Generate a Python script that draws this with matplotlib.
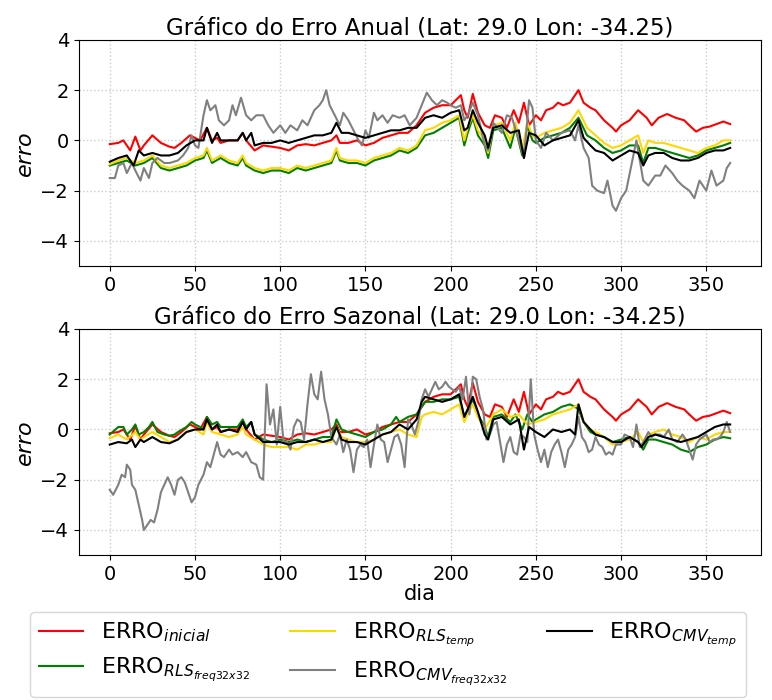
import numpy as np
import matplotlib.pyplot as plt

# erro inicial (igual nos dois graficos)
ini_d = [0, 5, 8, 12, 15, 18, 20, 25, 30, 35, 38, 42, 47, 50, 53, 57, 60, 63, 65, 70, 75, 78, 80, 85, 90,
         95, 100, 105, 110, 115, 120, 125, 130, 133, 135, 140, 145, 150, 155, 160, 165, 170, 175, 180, 185,
         190, 195, 200, 203, 206, 208, 210, 213, 216, 220, 223, 226, 230, 233, 237, 240, 243, 246, 250, 253,
         256, 260, 263, 266, 270, 275, 278, 282, 285, 290, 295, 297, 300, 305, 310, 315, 318, 322, 327, 332,
         337, 340, 344, 348, 352, 356, 360, 364]
ini_v = [-0.15, -0.1, 0.0, -0.4, 0.15, -0.4, -0.2, 0.2, -0.1, -0.25, -0.3, -0.1, 0.2, 0.1, 0.0, 0.5, 0.0, 0.1,
         -0.1, 0.0, 0.0, 0.3, 0.0, -0.4, -0.2, -0.25, -0.3, -0.4, -0.2, -0.15, -0.2, -0.1, 0.0, 0.2, -0.1, -0.1,
         0.0, -0.2, -0.1, 0.1, 0.2, 0.3, 0.3, 0.6, 1.1, 1.3, 1.4, 1.4, 1.6, 1.8, 1.2, 0.9, 1.85, 1.1, 0.6, 0.5,
         1.0, 0.9, 0.5, 1.2, 0.7, 1.5, 0.6, 1.0, 0.8, 1.2, 1.3, 1.5, 1.4, 1.5, 2.0, 1.5, 1.3, 1.2, 0.8, 0.5, 0.35,
         0.6, 0.8, 1.2, 0.9, 0.6, 0.9, 1.05, 0.9, 0.8, 0.6, 0.35, 0.5, 0.55, 0.65, 0.75, 0.65]

# grafico anual
a_rlsf_d = [0, 5, 10, 15, 20, 25, 30, 35, 40, 45, 50, 55, 57, 60, 65, 70, 75, 78, 80, 85, 90, 95, 100, 105,
            110, 115, 120, 125, 130, 133, 135, 140, 145, 150, 155, 160, 165, 170, 175, 180, 185, 190, 195, 200,
            205, 208, 210, 213, 216, 220, 222, 225, 230, 235, 238, 242, 245, 248, 250, 255, 260, 265, 270, 275,
            280, 285, 290, 295, 300, 305, 310, 313, 316, 320, 325, 330, 335, 340, 345, 350, 355, 360, 364]
a_rlsf_v = [-1.0, -0.9, -0.8, -1.0, -0.9, -0.7, -1.1, -1.2, -1.1, -1.0, -0.8, -0.7, -0.4, -0.9, -0.7, -0.9,
            -1.0, -0.7, -1.0, -1.2, -1.3, -1.2, -1.2, -1.3, -1.1, -1.2, -1.1, -1.0, -0.9, -0.4, -0.8, -0.9, -0.9,
            -1.0, -0.8, -0.7, -0.6, -0.4, -0.5, -0.3, 0.2, 0.3, 0.5, 0.7, 0.9, -0.2, 0.3, 0.9, 0.2, -0.2, -0.7,
            0.4, 0.5, -0.3, 0.5, -0.6, 0.6, 0.0, -0.1, 0.1, 0.2, 0.3, 0.5, 0.9, 0.2, 0.0, -0.3, -0.5, -0.4, -0.2,
            -0.2, -0.9, -0.3, -0.3, -0.4, -0.5, -0.6, -0.7, -0.6, -0.4, -0.3, -0.2, -0.1]

a_rlst_d = a_rlsf_d
a_rlst_v = [-0.95, -0.8, -0.7, -0.9, -0.8, -0.6, -1.0, -1.1, -1.0, -0.9, -0.7, -0.6, -0.3, -0.8, -0.6, -0.8,
            -0.9, -0.6, -0.9, -1.1, -1.2, -1.1, -1.1, -1.2, -1.0, -1.1, -1.0, -0.9, -0.8, -0.3, -0.7, -0.8, -0.8,
            -0.9, -0.7, -0.6, -0.5, -0.3, -0.4, -0.2, 0.4, 0.5, 0.7, 0.8, 1.0, 0.0, 0.5, 1.0, 0.4, 0.0, -0.5,
            0.6, 0.7, 0.0, 0.7, -0.4, 0.7, 0.2, 0.1, 0.3, 0.4, 0.5, 0.7, 1.2, 0.5, 0.2, -0.1, -0.3, -0.2, 0.0,
            0.2, -0.5, 0.0, -0.1, -0.1, -0.2, -0.3, -0.4, -0.5, -0.3, -0.2, 0.0, 0.0]

a_cmvt_d = [0, 5, 10, 14, 17, 20, 25, 30, 35, 40, 45, 50, 55, 57, 60, 63, 65, 70, 75, 78, 80, 83, 85, 90, 95,
            100, 105, 110, 115, 120, 125, 130, 133, 136, 140, 145, 150, 155, 160, 165, 170, 175, 180, 185, 190,
            195, 200, 205, 208, 210, 213, 216, 220, 222, 225, 230, 235, 240, 243, 246, 250, 255, 260, 265, 270,
            275, 278, 282, 285, 290, 295, 300, 305, 310, 313, 316, 320, 325, 330, 335, 340, 345, 350, 355, 360, 364]
a_cmvt_v = [-0.85, -0.7, -0.6, -1.0, -0.4, -0.6, -0.5, -0.6, -0.6, -0.5, -0.2, 0.0, 0.0, 0.5, -0.1, 0.3, 0.0,
            0.0, 0.0, 0.3, 0.0, 0.3, -0.2, -0.1, -0.1, 0.0, -0.1, 0.0, 0.1, 0.2, 0.2, 0.3, 0.7, 0.3, 0.3, 0.2,
            0.1, 0.2, 0.3, 0.4, 0.4, 0.5, 0.5, 0.9, 1.0, 0.9, 1.1, 1.2, 0.4, 0.5, 1.2, 0.7, 0.2, -0.3, 0.5, 0.6,
            0.3, 0.4, -0.7, 0.3, 0.2, -0.2, 0.0, 0.1, 0.2, 0.8, 0.1, -0.2, -0.4, -0.5, -0.8, -0.6, -0.4, -0.5,
            -1.0, -0.6, -0.5, -0.5, -0.7, -0.8, -0.8, -0.7, -0.5, -0.4, -0.4, -0.3]

a_cmvf_d = [0, 3, 5, 8, 10, 13, 15, 18, 20, 23, 25, 28, 32, 35, 40, 43, 46, 48, 50, 52, 55, 57, 59, 62, 64, 67,
            70, 72, 74, 77, 80, 83, 86, 90, 93, 96, 100, 103, 106, 110, 113, 116, 120, 123, 125, 127, 129, 132,
            135, 137, 140, 143, 146, 148, 150, 152, 155, 157, 160, 163, 166, 170, 173, 176, 180, 183, 186, 189,
            192, 195, 198, 200, 203, 206, 208, 210, 213, 216, 220, 222, 225, 230, 233, 236, 240, 243, 246, 248,
            250, 253, 256, 260, 265, 270, 273, 275, 278, 281, 283, 286, 290, 292, 295, 297, 300, 303, 306, 309,
            311, 313, 316, 320, 323, 326, 330, 333, 336, 340, 343, 346, 350, 353, 356, 360, 362, 364]
a_cmvf_v = [-1.5, -1.5, -1.0, -0.9, -1.3, -0.9, -1.2, -1.6, -1.1, -1.5, -0.9, -0.7, -0.9, -0.9, -0.8, -0.6,
            -0.3, 0.2, -0.2, -0.3, 1.0, 1.6, 1.2, 1.4, 0.8, 0.6, 0.8, 1.4, 1.0, 1.7, 1.0, 0.8, 1.0, 1.0, 0.6, 0.3,
            0.6, 0.3, 0.6, 0.4, 0.8, 0.6, 1.2, 1.4, 1.6, 2.0, 1.4, 1.0, 0.6, 1.1, 0.8, 0.4, 0.0, -0.2, 0.4, 0.1,
            1.1, 0.8, 1.0, 0.7, 1.0, 0.9, 1.0, 0.6, 0.9, 1.4, 1.9, 1.6, 1.4, 1.6, 1.5, 1.4, 1.3, 1.4, 0.8, 1.0,
            1.5, 1.0, -0.2, -0.4, 0.7, 0.3, 1.0, 0.9, 0.0, -0.7, 1.6, 1.3, 0.0, -0.3, 0.3, 0.0, 0.3, 0.4, 0.0,
            0.6, -0.3, -0.7, -1.8, -2.0, -2.1, -1.6, -2.6, -2.8, -2.3, -2.0, -1.0, 0.0, -0.8, -1.6, -1.8, -1.4,
            -1.4, -1.0, -1.3, -1.6, -1.8, -2.0, -2.3, -1.6, -2.0, -1.2, -1.8, -1.6, -1.1, -0.9]

# grafico sazonal
s_rlsf_d = [0, 5, 8, 10, 13, 15, 17, 20, 23, 25, 28, 32, 35, 38, 40, 45, 48, 50, 53, 55, 57, 60, 63, 65, 70,
            75, 78, 80, 83, 85, 88, 90, 95, 100, 105, 110, 115, 120, 125, 130, 133, 136, 140, 145, 150, 155,
            160, 165, 168, 170, 175, 180, 183, 185, 190, 195, 200, 205, 208, 210, 213, 216, 220, 222, 225, 230,
            235, 238, 242, 245, 248, 250, 255, 260, 265, 270, 273, 275, 278, 282, 285, 290, 295, 300, 305, 310,
            313, 316, 320, 325, 330, 335, 340, 345, 350, 355, 360, 364]
s_rlsf_v = [-0.2, 0.1, 0.1, -0.2, 0.0, 0.2, -0.2, -0.1, 0.1, 0.3, -0.1, -0.2, -0.25, -0.2, -0.1, 0.1, 0.3,
            0.2, 0.1, 0.0, 0.5, 0.2, 0.3, 0.1, 0.1, 0.1, 0.4, 0.1, 0.3, -0.2, -0.3, -0.4, -0.5, -0.4, -0.5, -0.4,
            -0.5, -0.4, -0.3, -0.3, 0.4, 0.0, -0.1, -0.2, -0.3, -0.1, 0.0, 0.2, 0.5, 0.3, 0.5, 0.6, 0.9, 1.1, 1.1,
            1.2, 1.2, 1.3, 0.5, 0.8, 1.2, 0.6, 0.1, -0.3, 0.5, 0.6, 0.3, 0.6, 0.0, 0.6, 0.3, 0.4, 0.6, 0.7, 0.9,
            1.0, 0.9, 0.8, 0.3, -0.1, -0.2, -0.3, -0.5, -0.4, -0.3, -0.5, -0.8, -0.4, -0.4, -0.5, -0.6, -0.8,
            -0.9, -0.7, -0.6, -0.4, -0.3, -0.35]

s_rlst_d = [0, 5, 10, 15, 18, 20, 25, 30, 35, 40, 45, 50, 55, 57, 60, 65, 70, 75, 78, 80, 85, 90, 95, 100,
            105, 110, 115, 120, 125, 130, 133, 136, 140, 145, 150, 155, 160, 165, 170, 175, 180, 183, 185, 190,
            195, 200, 205, 208, 210, 213, 216, 220, 225, 230, 235, 240, 245, 250, 255, 260, 265, 270, 275, 278,
            282, 285, 290, 295, 300, 305, 310, 313, 316, 320, 325, 330, 335, 340, 345, 350, 355, 360, 364]
s_rlst_v = [-0.35, -0.2, -0.4, -0.1, -0.4, -0.3, -0.1, -0.3, -0.5, -0.4, -0.1, 0.0, -0.2, 0.3, -0.1, -0.2,
            -0.3, -0.2, 0.1, -0.2, -0.4, -0.6, -0.7, -0.7, -0.7, -0.8, -0.6, -0.6, -0.5, -0.5, 0.1, -0.3, -0.4,
            -0.5, -0.5, -0.4, -0.2, -0.1, 0.0, -0.2, -0.3, 0.5, 0.6, 0.7, 0.6, 0.8, 1.0, 0.3, 0.6, 1.0, 0.5, 0.0,
            0.6, 0.8, 0.5, 0.6, 0.2, 0.3, 0.4, 0.6, 0.7, 0.8, 1.0, 0.3, 0.0, -0.1, -0.3, -0.6, -0.5, -0.4, -0.1,
            -0.5, -0.2, -0.1, 0.0, -0.2, -0.3, -0.5, -0.3, -0.4, -0.2, -0.1, -0.1]

s_cmvt_d = [0, 5, 10, 13, 15, 18, 20, 25, 30, 35, 40, 45, 50, 55, 57, 60, 63, 65, 70, 75, 78, 80, 83, 85, 90,
            95, 100, 105, 110, 115, 120, 125, 130, 133, 136, 140, 145, 150, 155, 160, 165, 170, 175, 180, 183,
            185, 190, 195, 200, 205, 208, 210, 213, 216, 220, 222, 225, 230, 235, 240, 243, 246, 250, 255, 260,
            265, 270, 273, 275, 278, 282, 285, 290, 295, 300, 305, 310, 312, 316, 320, 325, 330, 335, 340, 345,
            350, 355, 360, 364]
s_cmvt_v = [-0.6, -0.5, -0.55, -0.4, -0.7, -0.4, -0.5, -0.3, -0.5, -0.55, -0.4, -0.1, 0.0, 0.0, 0.4, 0.0, 0.2,
            -0.1, 0.0, -0.1, 0.3, 0.0, 0.3, -0.2, -0.5, -0.5, -0.5, -0.6, -0.5, -0.5, -0.4, -0.5, -0.4, 0.1, -0.4,
            -0.5, -0.5, -0.6, -0.4, -0.2, -0.1, 0.2, 0.0, 0.4, 1.1, 1.3, 1.2, 1.1, 1.2, 1.4, 0.5, 0.8, 1.3, 0.7,
            -0.2, -0.4, 0.4, 0.5, 0.2, 0.4, -0.8, 0.1, -0.1, -0.3, 0.0, -0.1, 0.0, -0.2, 1.0, 0.3, 0.0, -0.2,
            -0.3, -0.5, -0.5, -0.3, -0.5, -0.7, -0.3, -0.2, -0.3, -0.4, -0.5, -0.4, -0.3, -0.1, 0.1, 0.2, 0.2]

s_cmvf_d = [0, 2, 5, 7, 9, 10, 12, 13, 15, 17, 19, 20, 22, 24, 26, 28, 30, 32, 34, 36, 38, 40, 42, 44, 46, 48,
            50, 52, 55, 57, 59, 61, 63, 65, 67, 70, 72, 75, 78, 80, 83, 86, 88, 90, 92, 94, 96, 98, 100, 102,
            104, 106, 108, 110, 112, 114, 116, 118, 120, 122, 124, 126, 128, 130, 133, 135, 137, 139, 141, 143,
            145, 147, 149, 151, 153, 155, 157, 159, 161, 163, 165, 167, 169, 171, 173, 175, 177, 179, 181, 183,
            185, 187, 189, 191, 193, 195, 197, 199, 201, 203, 205, 207, 209, 211, 213, 215, 217, 219, 221, 223,
            225, 227, 229, 231, 233, 235, 237, 239, 241, 243, 245, 247, 249, 251, 253, 255, 257, 259, 261, 263,
            265, 267, 269, 271, 273, 275, 277, 279, 281, 283, 285, 287, 289, 291, 293, 295, 297, 300, 302, 305,
            307, 309, 311, 313, 316, 318, 320, 323, 325, 328, 330, 333, 336, 338, 340, 342, 344, 346, 348, 350,
            352, 354, 356, 358, 360, 362, 364]
s_cmvf_v = [-2.4, -2.6, -2.2, -1.8, -1.9, -1.4, -1.6, -2.2, -2.4, -3.0, -3.6, -4.0, -3.8, -3.6, -3.7, -3.2,
            -2.5, -2.2, -1.9, -2.2, -2.6, -2.0, -1.9, -2.1, -2.5, -2.9, -2.7, -2.2, -1.8, -1.3, -1.5, -1.0, -0.5,
            -1.0, -1.1, -0.8, -1.0, -0.9, -1.1, -0.9, -1.3, -1.4, -1.9, -2.0, 1.8, 0.2, 0.8, -0.6, 0.9, -0.5,
            -0.5, -0.8, 0.1, 0.4, 0.3, -0.4, 1.0, 2.2, 1.4, 1.2, 2.3, 1.2, 0.6, -0.3, -0.6, -0.2, -0.9, -0.4,
            -0.8, -1.7, -0.8, -0.6, -0.7, -0.4, -1.5, -0.6, 0.2, -0.4, -0.5, -1.3, -0.8, -0.3, -0.2, -0.6, -1.5,
            0.4, 0.2, -0.2, 0.3, 1.2, 1.6, 1.3, 1.6, 1.9, 1.6, 1.7, 1.9, 1.7, 1.6, 1.5, 1.7, 1.2, 2.1, 0.6, 2.1,
            2.0, 1.3, 0.8, -0.4, -0.2, 0.2, 0.3, -0.5, -1.3, -0.6, -0.3, -0.9, -1.0, -0.2, -0.3, -0.5, 2.0, -0.2,
            -0.8, -1.3, -0.8, -1.5, -0.9, -0.6, -0.4, -0.9, -1.5, -0.8, -0.6, -0.3, 0.5, -0.3, -0.5, -0.9, -0.8,
            -0.3, -0.6, -0.7, -1.0, -0.9, -1.0, -0.6, -0.6, -0.2, -0.3, -0.7, 0.2, -0.7, -0.5, -0.1, -0.3, -0.2,
            -0.2, -0.3, 0.0, -0.4, -0.5, -0.2, -0.4, -0.8, -1.2, -0.6, -0.4, -0.3, -0.2, -0.5, -0.4, -0.4, -0.3,
            -0.1, 0.3, -0.1]

labels = [r'ERRO$_{inicial}$', r'ERRO$_{RLS_{freq32x32}}$', r'ERRO$_{RLS_{temp}}$',
          r'ERRO$_{CMV_{freq32x32}}$', r'ERRO$_{CMV_{temp}}$']
colors = ['red', 'green', 'gold', 'gray', 'black']
titles = ['Gráfico do Erro Anual (Lat: 29.0 Lon: -34.25)',
          'Gráfico do Erro Sazonal (Lat: 29.0 Lon: -34.25)']

fig = plt.figure(figsize=(7.72, 7.0), dpi=100)
ax1 = fig.add_axes([0.102, 0.620, 0.884, 0.323])
ax2 = fig.add_axes([0.102, 0.207, 0.884, 0.323])

panels = [
    (ax1, [(ini_d, ini_v), (a_rlsf_d, a_rlsf_v), (a_rlst_d, a_rlst_v), (a_cmvf_d, a_cmvf_v), (a_cmvt_d, a_cmvt_v)]),
    (ax2, [(ini_d, ini_v), (s_rlsf_d, s_rlsf_v), (s_rlst_d, s_rlst_v), (s_cmvf_d, s_cmvf_v), (s_cmvt_d, s_cmvt_v)]),
]

for (ax, series), title in zip(panels, titles):
    for (d, v), c, lab in zip(series, colors, labels):
        ax.plot(d, v, color=c, lw=1.5, label=lab)
    ax.set_ylim(-5, 4)
    ax.set_yticks([-4, -2, 0, 2, 4])
    ax.set_xticks(range(0, 351, 50))
    ax.grid(True, linestyle=':', color='#cccccc', lw=1)
    ax.tick_params(labelsize=14)
    ax.set_ylabel('erro', fontsize=16, fontstyle='italic')
    ax.set_title(title, fontsize=16.5, pad=4)

ax2.set_xlabel('dia', fontsize=15, labelpad=0)

handles, labs = ax1.get_legend_handles_labels()
fig.legend(handles, labs, loc='upper left', bbox_to_anchor=(0.039, 0.126), ncol=3,
           fontsize=16, columnspacing=1.8, borderaxespad=0)

fig.savefig('out.png', dpi=100)
